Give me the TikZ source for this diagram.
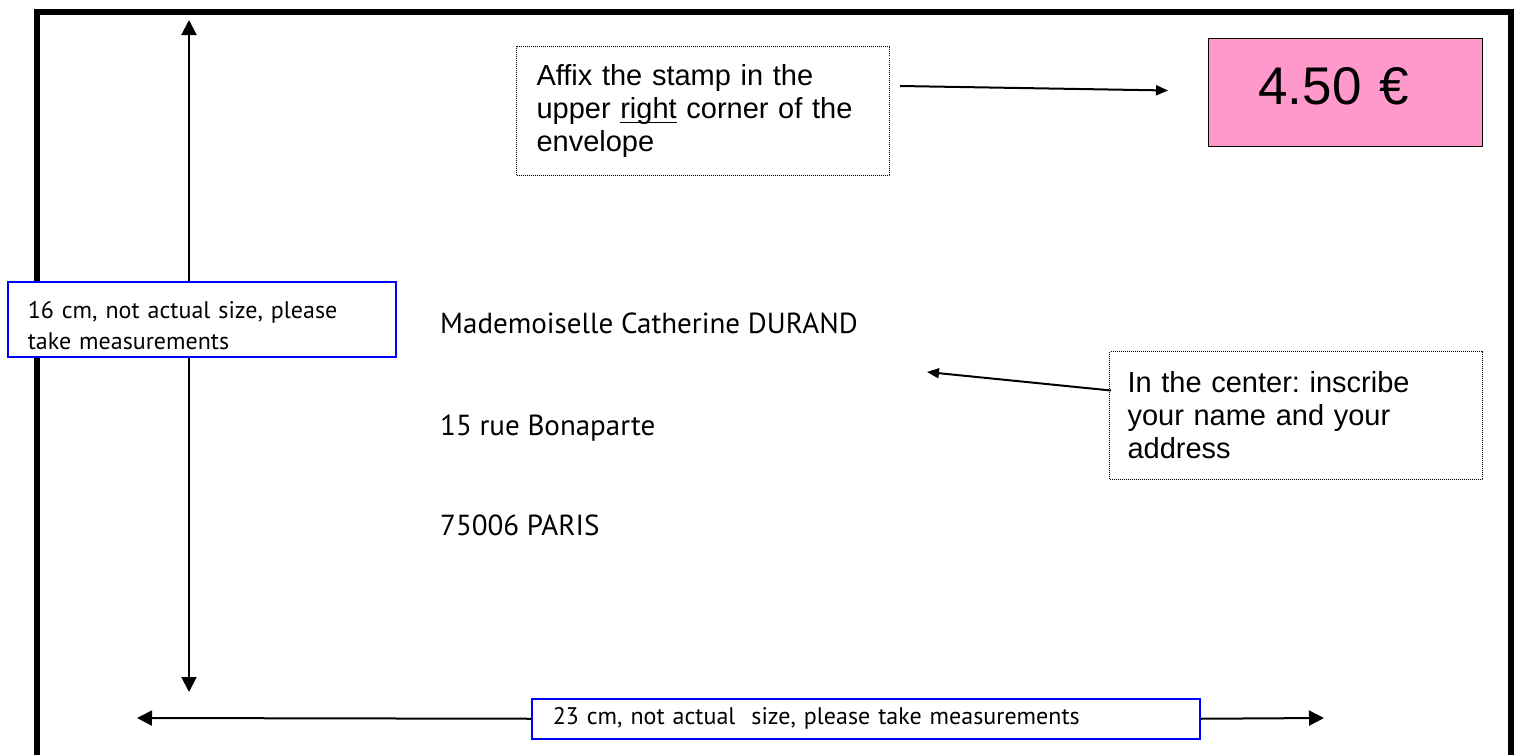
\documentclass[tikz,border=0pt]{standalone}
\usepackage{fontspec}
\setmainfont{Liberation Sans}
\newfontfamily\notefont{PT Sans}
\usetikzlibrary{arrows.meta,positioning}
\frenchspacing
\newcommand\ulword[1]{\setbox0\hbox{#1}\rlap{\rule[-5pt]{\wd0}{1.5pt}}#1}

\begin{document}
\begin{tikzpicture}[x=1pt, y=-1pt,
  dimarrow/.style = {line width=2pt, -{Triangle[length=15pt,width=15pt]}},
  pointer/.style = {line width=2pt, -{Triangle[length=12pt,width=10pt]}},
  hintbox/.style = {draw, line width=1pt, dash pattern=on 1pt off 1pt, anchor=north west,
    inner xsep=20pt, align=left, font=\fontsize{29}{33}\selectfont},
  dimbox/.style = {draw=blue, fill=white, line width=1.5pt, anchor=north west,
    inner xsep=20pt, align=left, font=\notefont\fontsize{24}{31}\selectfont},
  addrline/.style = {anchor=base west, inner sep=0pt, font=\notefont\fontsize{29}{36}\selectfont}]
\useasboundingbox (0,0) rectangle (1519,755);
% envelope
\draw[line width=5.5pt] (37,755) -- (37,12) -- (1511,12) -- (1511,755);

% height
\coordinate (htop) at (189,20);
\coordinate (hbot) at (189,692);
\draw[dimarrow] (189,320) -- (htop);
\draw[dimarrow] (189,320) -- (hbot);
\node[dimbox, minimum width=388pt, minimum height=75pt, text width=348pt] (hdim) at (7,281)
  {\rule{0pt}{30pt}16 cm, not actual size, please\\take measurements};

% width
\node[dimbox, minimum width=668pt, minimum height=40pt, text width=626pt, inner ysep=0pt] (wdim) at (531,698)
  {23 cm, not actual\ \ size, please take measurements};
\coordinate (wleft) at (137,718);
\coordinate (wright) at (1324,718);
\draw[dimarrow] (wdim.west) -- (wleft);
\draw[dimarrow] (wdim.east) -- (wright);

% stamp
\node[draw, fill={rgb,255:red,255;green,153;blue,204}, line width=1pt, anchor=north west,
  minimum width=274pt, minimum height=108pt, inner xsep=50pt, text width=174pt, align=left,
  font=\fontsize{53}{60}\selectfont] (stamp) at (1208,38) {4.50 €\rule[-14pt]{0pt}{0pt}};
\node[hintbox, minimum width=373pt, minimum height=129pt, text width=333pt] (affix) at (516,46)
  {Affix the stamp in the\\upper \ulword{right} corner of the\\envelope};
\draw[pointer] ([xshift=10pt,yshift=25pt]affix.east) -- ([xshift=-40pt,yshift=2pt]stamp.west);

% address
\node[addrline] (name) at (440,333) {Mademoiselle Catherine DURAND};
\node[addrline] (street) at (440,435) {15 rue Bonaparte};
\node[addrline] (city) at (440,535) {75006 PARIS};
\node[hintbox, minimum width=373pt, minimum height=128pt, text width=337pt, inner xsep=18pt] (center) at (1109,351)
  {In the center: inscribe\\your name and your\\address};
\coordinate (addrtip) at (927,372);
\draw[pointer] ([xshift=2pt,yshift=25pt]center.west) -- (addrtip);
\end{tikzpicture}
\end{document}
